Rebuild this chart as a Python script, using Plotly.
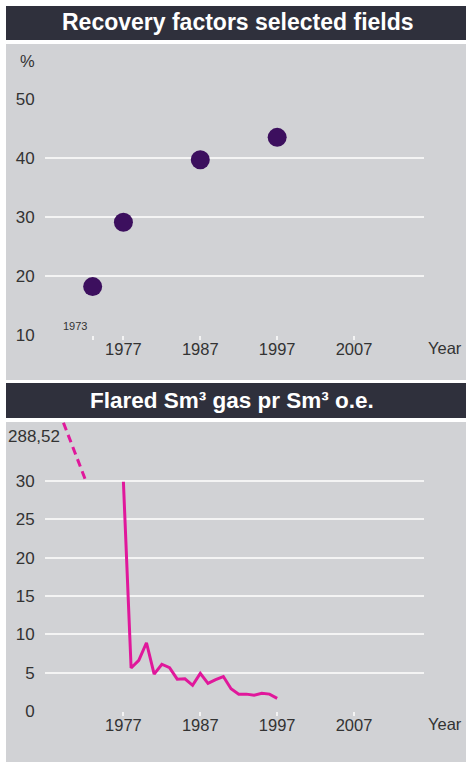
import plotly.graph_objects as go

# ---------------- data ----------------
recovery_years = [1973, 1977, 1987, 1997]
recovery_pct = [18.2, 29.1, 39.7, 43.5]

flare_years = [1977, 1978, 1979, 1980, 1981, 1982, 1983, 1984, 1985, 1986,
               1987, 1988, 1989, 1990, 1991, 1992, 1993, 1994, 1995, 1996, 1997]
flare_values = [29.9, 5.6, 6.6, 8.9, 4.8, 6.1, 5.65, 4.15, 4.2, 3.35,
                4.9, 3.6, 4.1, 4.5, 2.9, 2.2, 2.2, 2.05, 2.3, 2.2, 1.65]

# off-scale segment (value 288,52 shown as break)
flare_break_years = [1969.2, 1972.0]
flare_break_values = [37.6, 30.3]

top_y_ticks = [10, 20, 30, 40, 50]
bottom_y_ticks = [0, 5, 10, 15, 20, 25, 30]
top_x_ticks = [1973, 1977, 1987, 1997, 2007]
top_x_text = ["", "1977", "1987", "1997", "2007"]
bottom_x_ticks = [1977, 1987, 1997, 2007]
bottom_x_text = ["1977", "1987", "1997", "2007"]

# ---------------- layout helpers ----------------
W, H = 466, 762
def px(x):
    return x / W
def py(y):
    return 1 - y / H

DARK = "#2f303c"
GRAY = "#d1d2d5"
TXT = "#333333"
FONT = "Liberation Sans, Arial, sans-serif"
FS = 16.5

fig = go.Figure()

fig.add_trace(go.Scatter(
    x=recovery_years, y=recovery_pct, mode="markers",
    marker=dict(size=19, color="#3c0f5e", line=dict(width=0)),
    xaxis="x", yaxis="y", showlegend=False, hoverinfo="skip"))

fig.add_trace(go.Scatter(
    x=flare_years, y=flare_values, mode="lines",
    line=dict(color="#e0189b", width=3),
    xaxis="x2", yaxis="y2", showlegend=False, hoverinfo="skip"))

fig.add_trace(go.Scatter(
    x=flare_break_years, y=flare_break_values, mode="lines",
    line=dict(color="#e0189b", width=3, dash="8px,5px"),
    xaxis="x2", yaxis="y2", showlegend=False, hoverinfo="skip", cliponaxis=True))

xr = [1966.8, 2016.1]
common_x = dict(range=xr, showgrid=False, zeroline=False, showline=False,
                ticks="outside", tickcolor="#f4f4f4", ticklen=4, tickwidth=1.5,
                ticklabelstandoff=-5,
                tickfont=dict(family=FONT, size=FS, color=TXT), fixedrange=True,
                automargin=False)
common_y = dict(showgrid=True, gridcolor="#f4f4f4", gridwidth=1.6, zeroline=False,
                showline=False, ticks="outside", ticklen=6, tickcolor="rgba(0,0,0,0)",
                tickfont=dict(family=FONT, size=17, color=TXT),
                fixedrange=True, automargin=False)

fig.update_layout(
    width=W, height=H,
    margin=dict(l=0, r=0, t=0, b=0),
    paper_bgcolor="white",
    plot_bgcolor="rgba(0,0,0,0)",
    xaxis=dict(domain=[px(45), px(424)], anchor="y",
               tickvals=top_x_ticks, ticktext=top_x_text, **common_x),
    yaxis=dict(domain=[py(335), py(99)], anchor="x", range=[10, 50],
               tickvals=top_y_ticks, **common_y),
    xaxis2=dict(domain=[px(45), px(424)], anchor="y2",
                tickvals=bottom_x_ticks, ticktext=bottom_x_text, **common_x),
    yaxis2=dict(domain=[py(711), py(422)], anchor="x2", range=[0, 289 / 7.667],
                tickvals=bottom_y_ticks, **common_y),
    shapes=[
        dict(type="rect", xref="paper", yref="paper", x0=px(6), x1=px(466),
             y0=py(40), y1=py(6), fillcolor=DARK, line=dict(width=0), layer="below"),
        dict(type="rect", xref="paper", yref="paper", x0=px(6), x1=px(466),
             y0=py(380), y1=py(44), fillcolor=GRAY, line=dict(width=0), layer="below"),
        dict(type="rect", xref="paper", yref="paper", x0=px(6), x1=px(466),
             y0=py(418), y1=py(383), fillcolor=DARK, line=dict(width=0), layer="below"),
        dict(type="rect", xref="paper", yref="paper", x0=px(6), x1=px(466),
             y0=py(762), y1=py(422), fillcolor=GRAY, line=dict(width=0), layer="below"),
    ],
    annotations=[
        dict(text="<b>Recovery factors selected fields</b>", xref="paper", yref="paper",
             x=px(238), y=py(22), xanchor="center", yanchor="middle", showarrow=False,
             font=dict(family=FONT, size=23, color="white")),
        dict(text="<b>Flared Sm³ gas pr Sm³ o.e.</b>", xref="paper", yref="paper",
             x=px(232), y=py(400), xanchor="center", yanchor="middle", showarrow=False,
             font=dict(family=FONT, size=22.5, color="white")),
        dict(text="%", xref="paper", yref="paper", x=px(27), y=py(61),
             xanchor="center", yanchor="middle", showarrow=False,
             font=dict(family=FONT, size=FS, color=TXT)),
        dict(text="1973", xref="paper", yref="paper", x=px(75), y=py(326),
             xanchor="center", yanchor="middle", showarrow=False,
             font=dict(family=FONT, size=11, color=TXT)),
        dict(text="Year", xref="paper", yref="paper", x=px(445), y=py(348),
             xanchor="center", yanchor="middle", showarrow=False,
             font=dict(family=FONT, size=FS, color=TXT)),
        dict(text="Year", xref="paper", yref="paper", x=px(445), y=py(724),
             xanchor="center", yanchor="middle", showarrow=False,
             font=dict(family=FONT, size=FS, color=TXT)),
        dict(text="288,52", xref="paper", yref="paper", x=px(62), y=py(436),
             xanchor="right", yanchor="middle", showarrow=False,
             font=dict(family=FONT, size=17, color=TXT)),
    ],
)

fig.write_html("out.html", config={"displayModeBar": False},
               post_script="document.documentElement.style.margin='0';document.body.style.margin='0';document.body.style.overflow='hidden';")
